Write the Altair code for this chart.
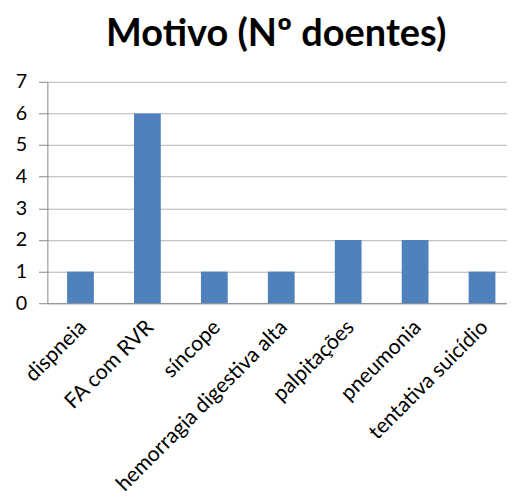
import altair as alt
import pandas as pd

categories = ["dispneia", "FA com RVR", "síncope", "hemorragia digestiva alta",
              "palpitações", "pneumonia", "tentativa suicídio"]
values = [1, 6, 1, 1, 2, 2, 1]
y_ticks = [0, 1, 2, 3, 4, 5, 6, 7]

df = pd.DataFrame({"motivo": categories, "n": values})

FONT = "Lato"

chart = alt.Chart(df).mark_bar(color="#4F81BD").encode(
    x=alt.X("motivo:N", sort=categories, title=None,
            scale=alt.Scale(paddingInner=0.6, paddingOuter=0.234, align=0.63),
            axis=alt.Axis(labelAngle=-45, labelAlign="right", labelBaseline="middle",
                          labelFontSize=21.5, labelFont=FONT, labelColor="#000000",
                          labelPadding=21, labelOffset=3, ticks=False,
                          domainColor="#868686", labelLimit=400)),
    y=alt.Y("n:Q", title=None,
            scale=alt.Scale(domain=[0, 7], nice=False),
            axis=alt.Axis(values=y_ticks, labelFontSize=20, labelFont=FONT,
                          labelColor="#000000", tickSize=9, tickColor="#868686",
                          domainColor="#868686", gridColor="#B3B3B3",
                          labelPadding=12)),
).properties(
    width=467,
    height=225,
    title=alt.TitleParams("Motivo (Nº doentes)", fontSize=38.5, font=FONT,
                          fontWeight="bold", color="#000000", anchor="middle",
                          dx=-1, offset=18),
    autosize=alt.AutoSizeParams(type="none"),
    padding={"left": 40, "top": 71, "right": 0, "bottom": 200},
).configure_view(stroke=None)

chart.save("out.html", embed_options={"renderer": "svg", "actions": False})
